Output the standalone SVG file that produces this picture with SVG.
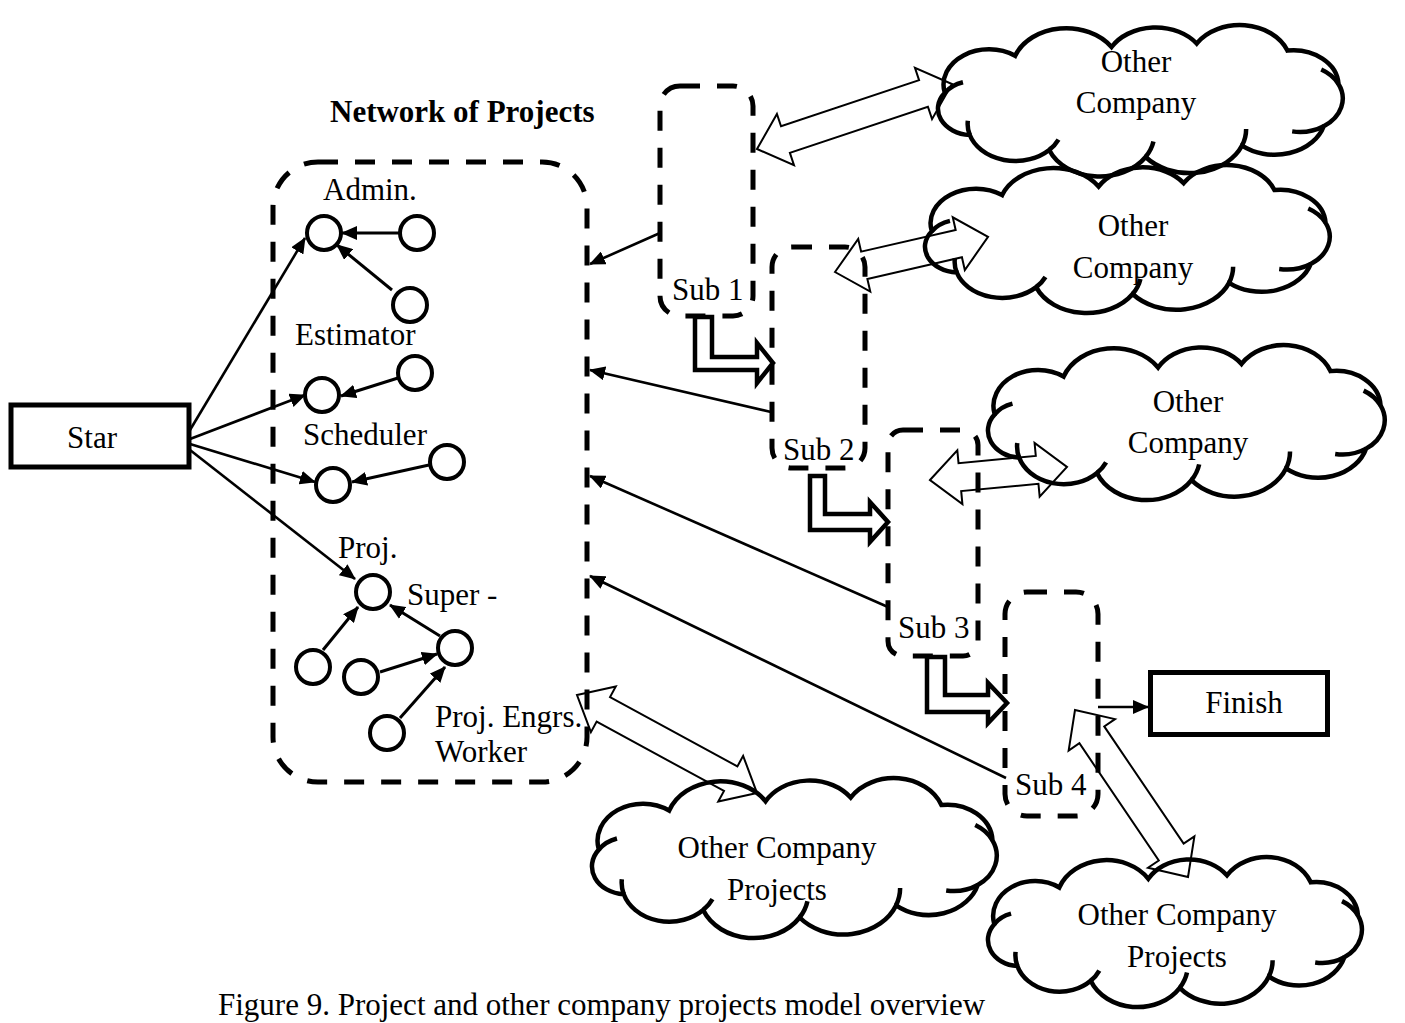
<svg xmlns="http://www.w3.org/2000/svg" width="1405" height="1023" viewBox="0 0 1405 1023">
<defs>
<style>
.t{font-family:"Liberation Serif","Times New Roman",serif;font-size:31px;fill:#000}
.b{font-weight:bold}
.m{text-anchor:middle}
.box{fill:#fff;stroke:#000;stroke-width:5}
.dash{fill:none;stroke:#000;stroke-width:5;stroke-dasharray:20 17}
.cir{fill:#fff;stroke:#000;stroke-width:4}
.ln{fill:none;stroke:#000;stroke-width:3}
.thin{fill:none;stroke:#000;stroke-width:2.6}
.blk{fill:none;stroke:#000;stroke-width:2;stroke-linejoin:miter}
.L{fill:none;stroke:#000;stroke-width:4.5;stroke-linejoin:miter}
.cl{fill:none;stroke:#000;stroke-width:4.5;vector-effect:non-scaling-stroke}
</style>
<marker id="ah" markerUnits="userSpaceOnUse" markerWidth="16" markerHeight="14" viewBox="0 0 16 14" refX="15" refY="7" orient="auto"><path d="M0,0 L16,7 L0,14 Z" fill="#000"/></marker>
<g id="cloudShape">
<path class="cl" d="M28,70 A40,40 0 0 1 90,28 A48,48 0 0 1 175,18 A45,45 0 0 1 250,14 A45,45 0 0 1 330,22 A40,40 0 0 1 375,60 A38,38 0 0 1 362,108 A45,45 0 0 1 290,130 A50,50 0 0 1 205,143 A48,48 0 0 1 120,135 A42,42 0 0 1 50,118 A30,30 0 0 1 28,70 Z"/>
<path class="cl" d="M28,70 A30,30 0 0 1 44,58 M50,118 A42,42 0 0 1 48.3,101.8 M375,60 A38,38 0 0 0 359.8,43.6 M362,108 A38,38 0 0 1 334.2,113.9 M205,143 A48,48 0 0 0 211.9,125.5 M120,135 A42,42 0 0 0 128.2,123.2 M290,130 A50,50 0 0 0 293.6,111.3"/>
</g>
</defs>
<rect width="1405" height="1023" fill="#fff"/>

<g id="title"><text class="t b" x="330" y="122">Network of Projects</text></g>

<g id="star"><rect class="box" x="11" y="405" width="178" height="62"/><text class="t m" x="92" y="448">Star</text></g>
<g id="finish"><rect class="box" x="1150.5" y="672.5" width="177" height="62"/><text class="t m" x="1244" y="713">Finish</text></g>

<g id="network"><rect class="dash" x="273" y="162" width="314" height="620" rx="45"/></g>
<g id="sub1"><rect class="dash" x="660" y="86" width="93" height="230" rx="20"/><text class="t" x="672" y="300">Sub 1</text></g>
<g id="sub2"><rect class="dash" x="772" y="247" width="93" height="221" rx="20"/><text class="t" x="783" y="460">Sub 2</text></g>
<g id="sub3"><rect class="dash" x="888" y="430" width="90" height="226" rx="15"/><text class="t" x="898" y="638">Sub 3</text></g>
<g id="sub4"><rect class="dash" x="1005" y="592" width="93" height="224" rx="22"/><text class="t" x="1015" y="795">Sub 4</text></g>

<g id="admin"><text class="t" x="323" y="200">Admin.</text>
<circle class="cir" cx="324" cy="233" r="17"/><circle class="cir" cx="417" cy="233" r="17"/><circle class="cir" cx="410" cy="305" r="17"/></g>
<g id="estimator"><text class="t" x="295" y="345">Estimator</text>
<circle class="cir" cx="322" cy="395" r="17"/><circle class="cir" cx="415" cy="373" r="17"/></g>
<g id="scheduler"><text class="t" x="303" y="445">Scheduler</text>
<circle class="cir" cx="333" cy="485" r="17"/><circle class="cir" cx="447" cy="462" r="17"/></g>
<g id="projsuper"><text class="t" x="338" y="558">Proj.</text><text class="t" x="407" y="605">Super -</text>
<circle class="cir" cx="373" cy="592" r="17"/></g>
<g id="engineers"><text class="t" x="435" y="727">Proj. Engrs.</text><text class="t" x="435" y="762">Worker</text>
<circle class="cir" cx="313" cy="667" r="17"/><circle class="cir" cx="361" cy="677" r="17"/><circle class="cir" cx="455" cy="648" r="17"/><circle class="cir" cx="387" cy="733" r="17"/></g>

<g id="cloud1"><use href="#cloudShape" transform="translate(938,25) scale(1.1345,0.88) translate(-22,7)"/>
<text class="t m" x="1136" y="72">Other</text><text class="t m" x="1136" y="113">Company</text></g>
<g id="cloud2"><use href="#cloudShape" transform="translate(925,165) scale(1.1345,0.86) translate(-22,7)"/>
<text class="t m" x="1133" y="236">Other</text><text class="t m" x="1133" y="278">Company</text></g>
<g id="cloud3"><use href="#cloudShape" transform="translate(988,345) scale(1.112,0.901) translate(-22,7)"/>
<text class="t m" x="1188" y="412">Other</text><text class="t m" x="1188" y="453">Company</text></g>
<g id="cloud4"><use href="#cloudShape" transform="translate(592,778) scale(1.1345,0.93) translate(-22,7)"/>
<text class="t m" x="777" y="858">Other Company</text><text class="t m" x="777" y="900">Projects</text></g>
<g id="cloud5"><use href="#cloudShape" transform="translate(988,857) scale(1.048,0.872) translate(-22,7)"/>
<text class="t m" x="1177" y="925">Other Company</text><text class="t m" x="1177" y="967">Projects</text></g>

<g id="connectors">
<path class="thin" marker-end="url(#ah)" d="M190,430 L305,238"/>
<path class="thin" marker-end="url(#ah)" d="M190,439 L305,395"/>
<path class="thin" marker-end="url(#ah)" d="M190,444 L315,482"/>
<path class="thin" marker-end="url(#ah)" d="M190,450 L355,579"/>
<path class="ln" marker-end="url(#ah)" d="M399,233 L342,233"/>
<path class="ln" marker-end="url(#ah)" d="M392,290 L337,245"/>
<path class="ln" marker-end="url(#ah)" d="M398,378 L341,396"/>
<path class="ln" marker-end="url(#ah)" d="M429,465 L352,482"/>
<path class="ln" marker-end="url(#ah)" d="M323,650 L358,607"/>
<path class="ln" marker-end="url(#ah)" d="M440,636 L390,605"/>
<path class="ln" marker-end="url(#ah)" d="M380,672 L437,654"/>
<path class="ln" marker-end="url(#ah)" d="M400,718 L445,667"/>
<path class="thin" marker-end="url(#ah)" d="M660,233 L590,264"/>
<path class="thin" marker-end="url(#ah)" d="M771,412 L590,370"/>
<path class="thin" marker-end="url(#ah)" d="M888,607 L590,476"/>
<path class="thin" marker-end="url(#ah)" d="M1006,778 L590,576"/>
<path class="thin" marker-end="url(#ah)" d="M1098,707 L1148,707"/>
<polygon class="L" points="695,317 695,370 757,370 757,383 773,363 757,343 757,357 712,357 712,317"/>
<polygon class="L" points="810,476 810,530 870,530 870,542 888,522 870,502 870,514 825,514 825,476"/>
<polygon class="L" points="927,657 927,712 988,712 988,723 1007,703 988,683 988,695 945,695 945,657"/>
<polygon class="blk" transform="translate(757,149) rotate(-18.43)" points="0,0 30,-27 30,-14 175.5,-14 175.5,-27 205.5,0 175.5,27 175.5,14 30,14 30,27"/>
<polygon class="blk" transform="translate(835,272) rotate(-12.9)" points="0,0 30,-27 30,-14 127,-14 127,-27 157,0 127,27 127,14 30,14 30,27"/>
<polygon class="blk" transform="translate(930,480) rotate(-5.42)" points="0,0 30,-27 30,-14 107.6,-14 107.6,-27 137.6,0 107.6,27 107.6,14 30,14 30,27"/>
<polygon class="blk" transform="translate(577,695) rotate(28.57)" points="0,0 30,-26 30,-14 175,-14 175,-26 205,0 175,26 175,14 30,14 30,26"/>
<polygon class="blk" transform="translate(1075,710) rotate(55.9)" points="0,0 30,-28 30,-15 171.6,-15 171.6,-28 201.6,0 171.6,28 171.6,15 30,15 30,28"/>
</g>

<g id="caption"><text class="t" x="218" y="1015">Figure 9. Project and other company projects model overview</text></g>
</svg>
